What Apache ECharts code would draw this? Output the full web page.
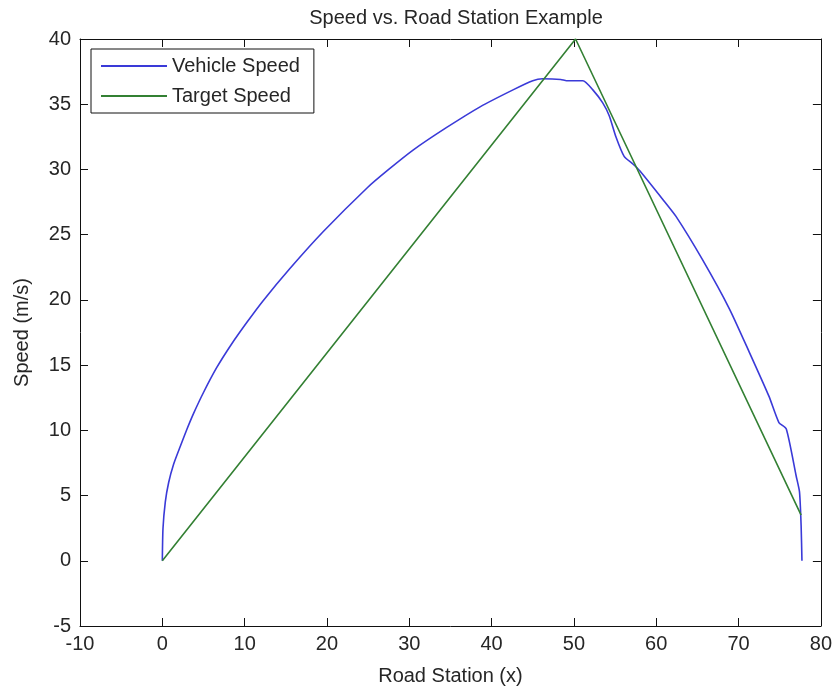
<!DOCTYPE html>
<html>
<head>
<meta charset="utf-8">
<script src="https://cdn.jsdelivr.net/npm/echarts@6/dist/echarts.min.js"></script>
<style>
  html, body { margin: 0; padding: 0; background: #fff; }
  #chart { width: 835px; height: 691px; }
</style>
</head>
<body>
<div id="chart"></div>
<script>
// ---- data ----
const vehicleX = [0, 0.08, 0.36, 0.77, 1.37, 2.2, 3.0, 3.8, 5.0, 6.6, 8.4, 10.3, 12.2, 15.5, 19.5, 24.9, 27.5, 30.5, 34.5, 38.6, 42.6, 45.0, 46.2, 48.4, 49.1, 51.1, 52.3, 53.5, 54.3, 55.1, 56.1, 57.2, 58.0, 60.8, 62.4, 65.6, 68.9, 71.3, 73.7, 74.9, 75.8, 77.0, 77.4, 77.6, 77.7];
const vehicleY = [0, 2.45, 4.5, 6.0, 7.4, 8.8, 10.1, 11.3, 12.9, 14.8, 16.6, 18.3, 19.9, 22.4, 25.2, 28.6, 30.0, 31.5, 33.2, 34.8, 36.1, 36.8, 36.95, 36.9, 36.8, 36.8, 36.1, 35.1, 34.1, 32.5, 31.0, 30.4, 29.9, 27.7, 26.4, 23.1, 19.3, 16.0, 12.6, 10.6, 10.1, 6.5, 5.3, 2.7, 0];
const targetX = [0, 50.2, 77.6];
const targetY = [0, 40, 3.5];
const seriesNames = ['Vehicle Speed', 'Target Speed'];
const seriesColors = ['#3a3ad8', '#338033'];
const titleText = 'Speed vs. Road Station Example';
const xName = 'Road Station (x)';
const yName = 'Speed (m/s)';

const pairs = (xs, ys) => xs.map((x, i) => [x, ys[i]]);
const FONT = '"Liberation Sans", Arial, sans-serif';
const TXT = '#262626';

const chart = echarts.init(document.getElementById('chart'), null, { renderer: 'canvas' });
const axisCommon = {
  type: 'value',
  axisLine: { show: true, onZero: false, lineStyle: { color: '#111', width: 1 } },
  axisTick: { show: true, inside: true, length: 8, lineStyle: { color: '#111' } },
  splitLine: { show: false }
};
chart.setOption({
  animation: false,
  backgroundColor: '#fff',
  title: {
    text: titleText, left: 451, textAlign: 'center', top: 3,
    textStyle: { fontFamily: FONT, fontSize: 20, fontWeight: 'normal', color: TXT }
  },
  grid: { left: 80, right: 13, top: 39, bottom: 64 },
  legend: {
    orient: 'vertical', left: 91, top: 49,
    backgroundColor: '#fff', borderColor: '#111', borderWidth: 1,
    padding: [7, 14, 7, 10],
    icon: 'rect',
    itemWidth: 66, itemHeight: 2, itemGap: 10,
    textStyle: { fontFamily: FONT, fontSize: 20, color: TXT, height: 20, lineHeight: 20 },
    data: seriesNames
  },
  xAxis: [
    Object.assign({}, axisCommon, {
      min: -10, max: 80, interval: 10, position: 'bottom',
      name: xName, nameLocation: 'middle', nameGap: 40,
      nameTextStyle: { fontFamily: FONT, fontSize: 20, color: TXT },
      axisLabel: { fontFamily: FONT, fontSize: 20, color: TXT, margin: 8 }
    }),
    Object.assign({}, axisCommon, {
      min: -10, max: 80, interval: 10, position: 'top',
      axisLabel: { show: false }
    })
  ],
  yAxis: [
    Object.assign({}, axisCommon, {
      min: -5, max: 40, interval: 5, position: 'left',
      name: yName, nameLocation: 'middle', nameGap: 48,
      nameTextStyle: { fontFamily: FONT, fontSize: 20, color: TXT },
      axisLabel: { fontFamily: FONT, fontSize: 20, color: TXT, margin: 9 }
    }),
    Object.assign({}, axisCommon, {
      min: -5, max: 40, interval: 5, position: 'right',
      axisLabel: { show: false }
    })
  ],
  series: [
    {
      name: seriesNames[0], type: 'line', symbol: 'none', showSymbol: false, clip: false,
      data: pairs(vehicleX, vehicleY), smooth: 0.2,
      lineStyle: { color: seriesColors[0], width: 1.6 }, itemStyle: { color: seriesColors[0] }
    },
    {
      name: seriesNames[1], type: 'line', symbol: 'none', showSymbol: false, clip: false,
      data: pairs(targetX, targetY),
      lineStyle: { color: seriesColors[1], width: 1.6 }, itemStyle: { color: seriesColors[1] }
    }
  ]
});
</script>
</body>
</html>
